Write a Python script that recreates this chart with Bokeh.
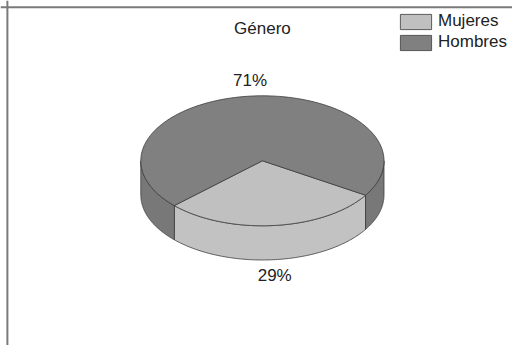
import numpy as np
from bokeh.plotting import figure
from bokeh.models import ColumnDataSource, Range1d, Legend, LegendItem, Span
from bokeh.core.properties import value
from bokeh.embed import file_html
from bokeh.resources import INLINE

# ---- data ----
categories = ["Mujeres", "Hombres"]
percentages = [29, 71]
pct_labels = ["29%", "71%"]
title_text = "Género"

# ---- style ----
top_colors = ["#c0c0c0", "#808080"]
side_colors = ["#c2c2c2", "#787878"]
edge_color = "#3c3c3c"
FONT = "Liberation Sans"

# ---- geometry (pixel-like coordinates, y downward) ----
CX, CY, RX, RY, DEPTH = 266.0, 164.0, 123.5, 66.5, 35.0
START = 32.0  # degrees, clockwise on screen from 3 o'clock


def arc(a0, a1, n=120):
    t = np.radians(np.linspace(a0, a1, n))
    return CX + RX * np.cos(t), CY + RY * np.sin(t)


total = float(sum(percentages))
bounds = []
a = START
for v in percentages:
    b = a + v / total * 360.0
    bounds.append((a, b))
    a = b

# side walls (front half only)
side_xs, side_ys, side_fc = [], [], []
for i, (a0, a1) in enumerate(bounds):
    for k in range(-1, 3):
        f0, f1 = 360.0 * k, 360.0 * k + 180.0
        s0, s1 = max(a0, f0), min(a1, f1)
        if s1 > s0:
            x, y = arc(s0, s1)
            side_xs.append(list(x) + list(x[::-1]))
            side_ys.append(list(y) + list((y + DEPTH)[::-1]))
            side_fc.append(side_colors[i])

# top faces
top_xs, top_ys = [], []
for (a0, a1) in bounds:
    x, y = arc(a0, a1)
    top_xs.append([CX] + list(x))
    top_ys.append([CY] + list(y))

# labels
lab_x, lab_y = [], []
for (a0, a1) in bounds:
    t = np.radians((a0 + a1) / 2)
    s = np.sin(t)
    lx = CX + RX * np.cos(t)
    ly = CY + RY * s
    if s > 0:
        ly += DEPTH + 16
    else:
        ly -= 16
    lab_x.append(lx)
    lab_y.append(ly)

p = figure(width=512, height=345, output_backend="svg", toolbar_location=None,
           x_range=Range1d(0, 520), y_range=Range1d(353, 0),
           x_axis_type=None, y_axis_type=None, min_border=0)
p.grid.visible = False
p.outline_line_color = None
p.background_fill_color = "white"
p.border_fill_color = "white"

# frame border (left and top visible in reference)
p.add_layout(Span(location=7, dimension="height", line_color="#7a7a7a", line_width=2))
p.add_layout(Span(location=7, dimension="width", line_color="#7a7a7a", line_width=2))

side_src = ColumnDataSource(dict(xs=side_xs, ys=side_ys, fc=side_fc))
p.patches("xs", "ys", source=side_src, fill_color="fc", line_color=edge_color, line_width=0.8)

top_src = ColumnDataSource(dict(xs=top_xs, ys=top_ys, fc=top_colors, cat=categories))
top_r = p.patches("xs", "ys", source=top_src, fill_color="fc", line_color=edge_color, line_width=0.8)

lab_src = ColumnDataSource(dict(x=lab_x, y=lab_y, t=pct_labels))
p.text("x", "y", text="t", source=lab_src, text_align="center", text_baseline="middle",
       text_font=value(FONT), text_font_size="17px", text_color="#222222")

title_src = ColumnDataSource(dict(x=[CX], y=[29], t=[title_text]))
p.text("x", "y", text="t", source=title_src, text_align="center", text_baseline="middle",
       text_font=value(FONT), text_font_size="17px", text_color="#222222")

legend = Legend(items=[LegendItem(label=categories[i], renderers=[top_r], index=i)
                       for i in range(len(categories))],
                location=(396, 293), orientation="vertical",
                glyph_width=39, glyph_height=19, label_height=19, spacing=1,
                padding=0, margin=0, label_standoff=3,
                label_text_font=FONT, label_text_font_size="17px", label_text_color="#222222",
                border_line_color=None, background_fill_alpha=0)
p.add_layout(legend)

open("out.html", "w").write(file_html(p, INLINE))
